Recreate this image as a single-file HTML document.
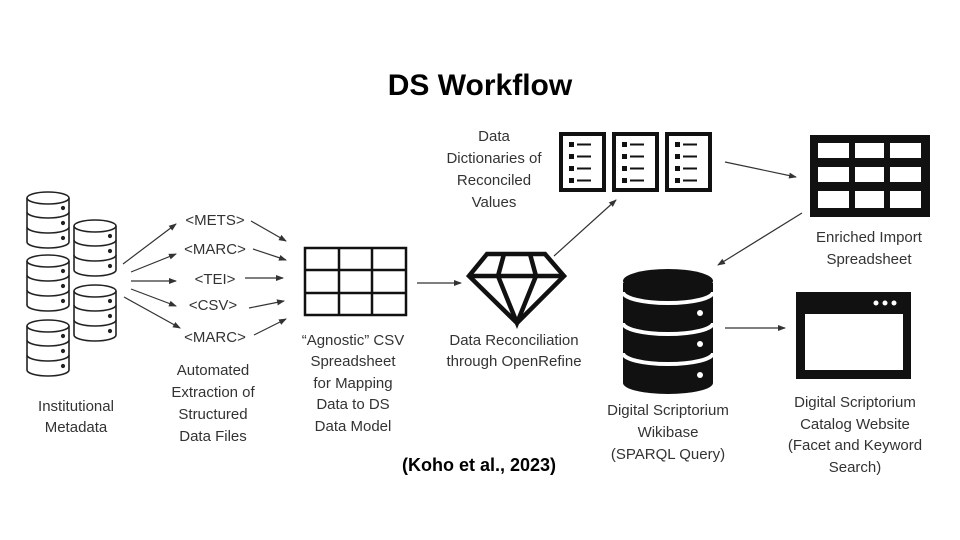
<!DOCTYPE html>
<html><head><meta charset="utf-8"><style>
html,body{margin:0;padding:0;background:#fff;}
svg{display:block;}
text{font-family:"Liberation Sans",sans-serif;fill:#333;font-size:15px;text-anchor:middle;}
</style></head><body>
<svg width="960" height="540" viewBox="0 0 960 540" xmlns="http://www.w3.org/2000/svg">
<defs>
<marker id="a" markerWidth="8" markerHeight="8" refX="7" refY="4" orient="auto" markerUnits="userSpaceOnUse"><path d="M0,1 L8,4 L0,7 Z" fill="#333"/></marker>
<g id="cyl" fill="#fff" stroke="#222" stroke-width="1.6">
<path d="M0,6 L0,50 A21,6 0 0 0 42,50 L42,6"/>
<ellipse cx="21" cy="6" rx="21" ry="6"/>
<path d="M0,20 A21,6 0 0 0 42,20 M0,35 A21,6 0 0 0 42,35" fill="none"/>
<circle cx="36" cy="16" r="1.3" fill="#222"/><circle cx="36" cy="31" r="1.3" fill="#222"/><circle cx="36" cy="46" r="1.3" fill="#222"/>
</g>
<g id="doc">
<rect x="2" y="2" width="43" height="56" fill="#fff" stroke="#111" stroke-width="4"/>
<rect x="10" y="10" width="5" height="5" fill="#111"/><rect x="18" y="11.5" width="14" height="2" fill="#111"/>
<rect x="10" y="22" width="5" height="5" fill="#111"/><rect x="18" y="23.5" width="14" height="2" fill="#111"/>
<rect x="10" y="34" width="5" height="5" fill="#111"/><rect x="18" y="35.5" width="14" height="2" fill="#111"/>
<rect x="10" y="46" width="5" height="5" fill="#111"/><rect x="18" y="47.5" width="14" height="2" fill="#111"/>
</g>
</defs>

<text x="480" y="95" style="font-weight:bold;font-size:30px;fill:#000">DS Workflow</text>

<use href="#cyl" x="27" y="192"/>
<use href="#cyl" x="27" y="255"/>
<use href="#cyl" x="27" y="320"/>
<use href="#cyl" x="74" y="220"/>
<use href="#cyl" x="74" y="285"/>

<g stroke="#333" stroke-width="1.2" marker-end="url(#a)">
<line x1="123" y1="264" x2="176" y2="224"/>
<line x1="131" y1="272" x2="176" y2="254"/>
<line x1="131" y1="281" x2="176" y2="281"/>
<line x1="131" y1="289" x2="176" y2="306"/>
<line x1="124" y1="297" x2="180" y2="328"/>
<line x1="251" y1="221" x2="286" y2="241"/>
<line x1="253" y1="249" x2="286" y2="260"/>
<line x1="245" y1="278" x2="283" y2="278"/>
<line x1="249" y1="308" x2="284" y2="301"/>
<line x1="254" y1="335" x2="286" y2="319"/>
<line x1="417" y1="283" x2="461" y2="283"/>
<line x1="554" y1="256" x2="616" y2="200"/>
<line x1="725" y1="162" x2="796" y2="177"/>
<line x1="802" y1="213" x2="718" y2="265"/>
<line x1="725" y1="328" x2="785" y2="328"/>
</g>
<text x="215" y="225">&lt;METS&gt;</text>
<text x="215" y="254">&lt;MARC&gt;</text>
<text x="215" y="284">&lt;TEI&gt;</text>
<text x="213" y="310">&lt;CSV&gt;</text>
<text x="215" y="342">&lt;MARC&gt;</text>

<g fill="none" stroke="#111" stroke-width="2.5">
<rect x="305" y="248" width="101" height="67"/>
<line x1="339" y1="248" x2="339" y2="315"/><line x1="372" y1="248" x2="372" y2="315"/>
<line x1="305" y1="270" x2="406" y2="270"/><line x1="305" y1="293" x2="406" y2="293"/>
</g>

<g fill="none" stroke="#111" stroke-width="4.5" stroke-linejoin="miter">
<path d="M487,254 L545,254 L564,276 L517,323 L469,276 Z"/>
<line x1="469" y1="276" x2="564" y2="276"/>
<path d="M504,254 L498,276 L517,323 L536,276 L530,254"/>
</g>

<use href="#doc" x="559" y="132"/>
<use href="#doc" x="612" y="132"/>
<use href="#doc" x="665" y="132"/>

<rect x="810" y="135" width="120" height="82" fill="#111"/>
<g fill="#fff">
<rect x="818" y="143" width="31" height="15"/><rect x="855" y="143" width="29" height="15"/><rect x="890" y="143" width="31" height="15"/>
<rect x="818" y="167" width="31" height="15"/><rect x="855" y="167" width="29" height="15"/><rect x="890" y="167" width="31" height="15"/>
<rect x="818" y="191" width="31" height="17"/><rect x="855" y="191" width="29" height="17"/><rect x="890" y="191" width="31" height="17"/>
</g>

<g>
<path d="M623,283 L623,383 A45,11 0 0 0 713,383 L713,283 Z" fill="#111"/>
<ellipse cx="668" cy="281" rx="45" ry="12" fill="#111"/>
<path d="M623,292 A45,11 0 0 0 713,292 M623,323 A45,11 0 0 0 713,323 M623,353 A45,11 0 0 0 713,353" fill="none" stroke="#fff" stroke-width="4"/>
<circle cx="700" cy="313" r="3" fill="#fff"/><circle cx="700" cy="344" r="3" fill="#fff"/><circle cx="700" cy="375" r="3" fill="#fff"/>
</g>

<rect x="796" y="292" width="115" height="87" fill="#111"/>
<rect x="805" y="314" width="98" height="56" fill="#fff"/>
<circle cx="876" cy="303" r="2.5" fill="#fff"/><circle cx="885" cy="303" r="2.5" fill="#fff"/><circle cx="894" cy="303" r="2.5" fill="#fff"/>

<text x="76" y="411">Institutional</text><text x="76" y="432">Metadata</text>
<text x="213" y="375">Automated</text><text x="213" y="397">Extraction of</text><text x="213" y="419">Structured</text><text x="213" y="441">Data Files</text>
<text x="353" y="345">“Agnostic” CSV</text><text x="353" y="366">Spreadsheet</text><text x="353" y="388">for Mapping</text><text x="353" y="409">Data to DS</text><text x="353" y="431">Data Model</text>
<text x="514" y="345">Data Reconciliation</text><text x="514" y="366">through OpenRefine</text>
<text x="494" y="141">Data</text><text x="494" y="163">Dictionaries of</text><text x="494" y="185">Reconciled</text><text x="494" y="207">Values</text>
<text x="869" y="242">Enriched Import</text><text x="869" y="264">Spreadsheet</text>
<text x="668" y="415">Digital Scriptorium</text><text x="668" y="437">Wikibase</text><text x="668" y="459">(SPARQL Query)</text>
<text x="855" y="407">Digital Scriptorium</text><text x="855" y="429">Catalog Website</text><text x="855" y="450">(Facet and Keyword</text><text x="855" y="472">Search)</text>
<text x="479" y="471" style="font-weight:bold;font-size:18px;fill:#000">(Koho et al., 2023)</text>
</svg>
</body></html>
